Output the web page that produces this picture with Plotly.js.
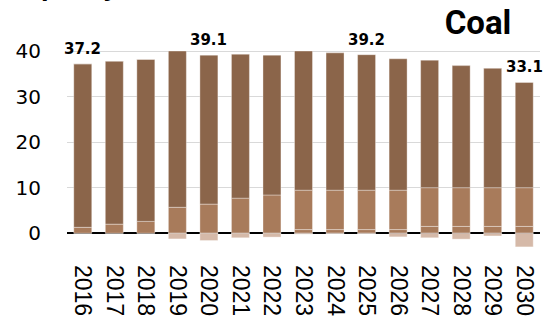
<!DOCTYPE html>
<html>
<head>
<meta charset="utf-8">
<script src="https://cdn.plot.ly/plotly-3.0.1.min.js"></script>
<style>html,body{margin:0;padding:0;background:#fff;}#chart{width:546px;height:321px;}</style>
</head>
<body>
<div id="chart"></div>
<script>
// Data (GW)
var years = ['2016','2017','2018','2019','2020','2021','2022','2023','2024','2025','2026','2027','2028','2029','2030'];
var totalCapacity = [37.2, 37.8, 38.2, 40.0, 39.1, 39.3, 39.1, 40.0, 39.6, 39.2, 38.3, 38.0, 36.8, 36.2, 33.1];
var mediumTop     = [1.3, 2.0, 2.6, 5.7, 6.4, 7.7, 8.4, 9.45, 9.45, 9.45, 9.45, 10.0, 10.0, 10.0, 10.0];
var baseSegment   = [0, 0, 0, 0, 0, 0, 0, 0.8, 0.8, 0.8, 0.8, 1.5, 1.5, 1.5, 1.5];
var negativeSeg   = [0, 0, 0, -1.25, -1.6, -1.0, -0.85, -0.2, -0.15, -0.15, -0.8, -1.0, -1.3, -0.6, -3.0];
var labelText     = ['37.2','','','','39.1','','','','','39.2','','','','','33.1'];

var midSegment = mediumTop.map(function(v, i){ return +(v - baseSegment[i]).toFixed(2); });
var darkSegment = totalCapacity.map(function(v, i){ return +(v - mediumTop[i]).toFixed(2); });

var edge = {color: 'rgba(255,255,255,0.35)', width: 1};
var traces = [
  {type:'bar', x: years, y: baseSegment, marker:{color:'#a87b5b', line: edge}, hoverinfo:'skip'},
  {type:'bar', x: years, y: midSegment, marker:{color:'#a87b5b', line: edge}, hoverinfo:'skip'},
  {type:'bar', x: years, y: darkSegment, marker:{color:'#8b654a', line: edge}, hoverinfo:'skip'},
  {type:'bar', x: years, y: negativeSeg, marker:{color:'#d5b9a8', line: edge}, hoverinfo:'skip'}
];

var annotations = [
  {text: '<b>Capacity [GW]</b>', xref: 'paper', yref: 'paper',
   x: (8 - 67) / 473, y: 1 + (26 - 4) / 230, xanchor: 'left', yanchor: 'bottom',
   showarrow: false, font: {family: 'DejaVu Sans', size: 22, color: '#000'}}
];
years.forEach(function(yr, i){
  if (labelText[i]) {
    annotations.push({text: '<b>' + labelText[i] + '</b>', x: i, y: totalCapacity[i],
      xref: 'x', yref: 'y', xanchor: 'center', yanchor: 'bottom', yshift: 4,
      showarrow: false, font: {family: 'DejaVu Sans', size: 15, color: '#000'}});
  }
});

var layout = {
  width: 546, height: 321,
  margin: {l: 67, r: 6, t: 26, b: 65},
  paper_bgcolor: '#fff', plot_bgcolor: '#fff',
  barmode: 'relative', bargap: 0.43,
  showlegend: false,
  title: {text: '<b>Coal</b>', x: 478/546, xanchor: 'center', xref: 'container',
          y: 1 - 22/321, yanchor: 'middle', yref: 'container',
          font: {family: 'Roboto', size: 33, color: '#000'}},
  xaxis: {type: 'category', range: [-0.5, years.length - 0.5], tickangle: 90,
          tickmode: 'array', tickvals: years, ticktext: years,
          showgrid: false, zeroline: false,
          showline: false, ticks: '', ticklabelstandoff: 8,
          tickfont: {family: 'Liberation Sans', size: 23, color: '#000'}},
  yaxis: {range: [-5, 45.5], tickvals: [0, 10, 20, 30, 40], ticktext: ['0','10','20','30','40'],
          showgrid: true, gridcolor: '#d9d9d9', gridwidth: 1,
          zeroline: true, zerolinecolor: '#000', zerolinewidth: 2.5,
          showline: false, ticks: '', ticklabelstandoff: 25,
          tickfont: {family: 'DejaVu Sans', size: 20, color: '#000'}},
  annotations: annotations
};

Plotly.newPlot('chart', traces, layout, {displayModeBar: false, staticPlot: true});
</script>
</body>
</html>
